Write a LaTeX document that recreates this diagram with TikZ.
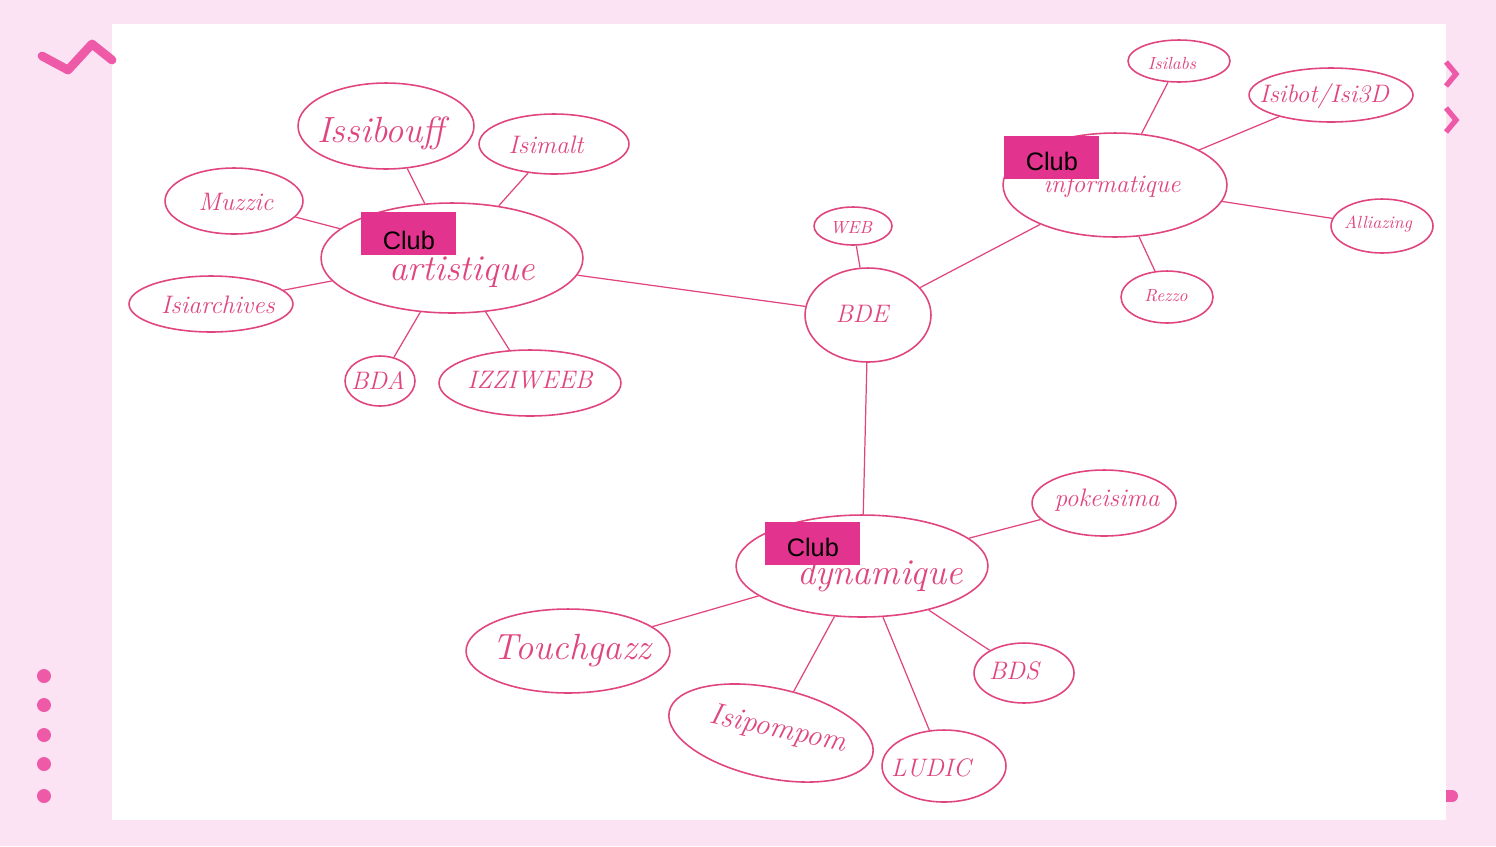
\documentclass[tikz,border=0pt]{standalone}
\usepackage{fontspec}
\setsansfont{Liberation Sans}
\usetikzlibrary{shapes.geometric}
\definecolor{ink}{HTML}{E0457F}
\definecolor{bg}{HTML}{FCE3F3}
\definecolor{mag}{HTML}{E2338E}
\definecolor{deco}{HTML}{EE5AA8}
\newcommand{\myell}[5]{\node[el,minimum width=#4*0.04cm,minimum height=#5*0.04cm] (#1) at (#2,#3) {};}
\begin{document}
\begin{tikzpicture}[x=0.02cm,y=-0.02cm,
 el/.style={draw=ink,line width=0.9pt,ellipse,inner sep=0pt},
 lb/.style={text=ink,font=\itshape\Large},
 con/.style={draw=ink,line width=0.7pt},
 club/.style={fill=mag,minimum width=95*0.02cm,minimum height=43*0.02cm,inner sep=0pt,anchor=north west,font=\sffamily\Large,text=black,text depth=0pt}]
\fill[bg] (0,0) rectangle (1496,846);
\fill[white] (112,24) rectangle (1446,820);
\draw[deco,line width=5pt,line cap=round,line join=round] (42,56)--(68,70)--(92,44)--(112,60);
\foreach \y in {676,705,735,764,796} \fill[deco] (44,\y) circle (7);
\draw[deco,line width=3pt] (1446,62)--(1456,74)--(1446,86);
\draw[deco,line width=3pt] (1446,108)--(1456,120)--(1446,132);
\fill[deco] (1446,790) rectangle (1452,802); \fill[deco] (1452,796) circle (6);
% ellipses
\myell{iss}{386}{126}{88}{43}
\myell{isim}{554}{144}{75}{30}
\myell{muz}{234}{201}{69}{33}
\myell{art}{452}{258}{131}{55}
\myell{isia}{211}{304}{82}{28}
\myell{bda}{380}{381}{35}{25}
\myell{izz}{530}{383}{91}{33}
\myell{web}{853}{226}{39}{19}
\myell{bde}{868}{315}{63}{47}
\myell{ilab}{1179}{61}{51}{21}
\myell{ibot}{1331}{95}{82}{27}
\myell{info}{1115}{185}{112}{52}
\myell{all}{1382}{226}{51}{27}
\myell{rez}{1167}{297}{46}{26}
\myell{dyn}{862}{566}{126}{51}
\myell{pok}{1104}{503}{72}{33}
\myell{tou}{568}{651}{102}{42}
\myell{bds}{1024}{673}{50}{30}
\node[el,minimum width=208*0.02cm,minimum height=90*0.02cm,rotate=-12] (pom) at (771,733) {};
\myell{lud}{944}{766}{62}{36}
% labels
\node[lb,font=\itshape\huge] at (381,133) {Issibouff};
\node[lb] at (546,145) {Isimalt};
\node[lb] at (236,202) {Muzzic};
\node[lb,font=\itshape\huge] at (462,272) {artistique};
\node[lb] at (218,305) {Isiarchives};
\node[lb] at (378,380) {BDA};
\node[lb] at (530,380) {IZZIWEEB};
\node[lb,font=\itshape] at (851,228) {WEB};
\node[lb] at (862,314) {BDE};
\node[lb,font=\itshape] at (1172,63) {Isilabs};
\node[lb] at (1324,96) {Isibot/Isi3D};
\node[lb] at (1112,186) {informatique};
\node[lb,font=\itshape] at (1378,224) {Alliazing};
\node[lb,font=\itshape] at (1166,296) {Rezzo};
\node[lb,font=\itshape\huge] at (880,576) {dynamique};
\node[lb] at (1107,500) {pokeisima};
\node[lb,font=\itshape\huge] at (572,651) {Touchgazz};
\node[lb] at (1014,671) {BDS};
\node[lb,font=\itshape\LARGE,inner sep=0pt,rotate=-12] at (778,730) {Isipompom};
\node[lb] at (931,768) {LUDIC};
% clubs
\node[club,text depth=0pt,text height=10pt,anchor=north west] at (361,212) {\raisebox{-4pt}{Club}};
\node[club] at (1004,136) {\raisebox{-4pt}{Club}};
\node[club] at (765,522) {\raisebox{-4pt}{Club}};
% connectors
\foreach \a/\b in {iss/art,isim/art,muz/art,isia/art,bda/art,izz/art,art/bde,web/bde,bde/info,info/ilab,info/ibot,info/all,info/rez,bde/dyn,dyn/pok,dyn/tou,dyn/pom,dyn/lud,dyn/bds}
 \draw[con] (\a)--(\b);
\end{tikzpicture}
\end{document}
